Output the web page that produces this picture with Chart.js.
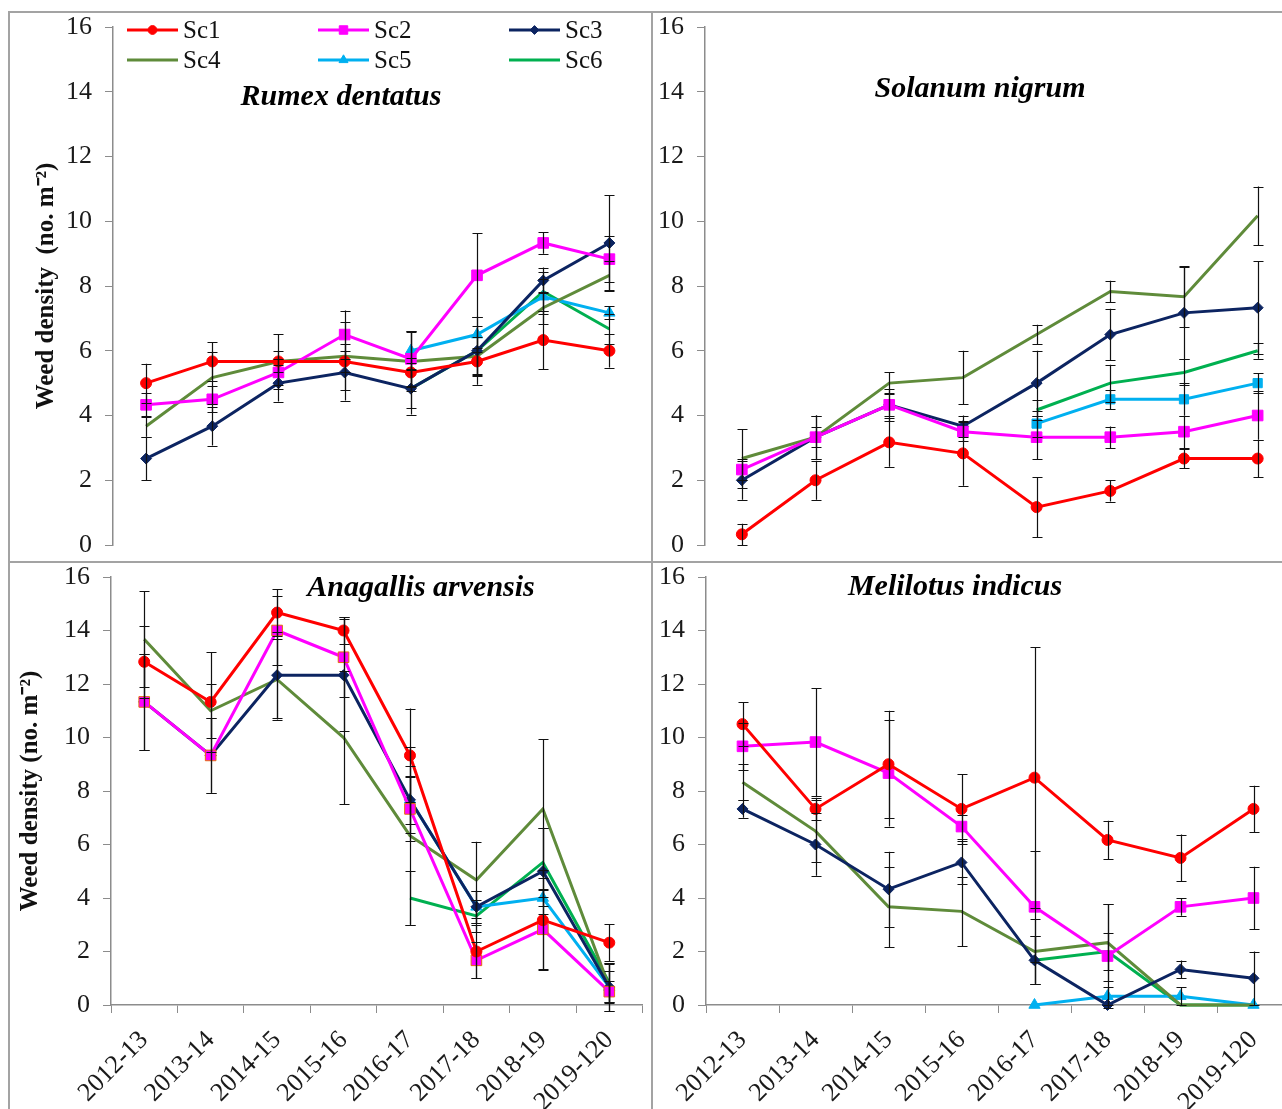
<!DOCTYPE html>
<html>
<head>
<meta charset="utf-8">
<title>Weed density</title>
<script src="https://cdn.jsdelivr.net/npm/chart.js@4.4.0/dist/chart.umd.min.js"></script>
<style>
  html, body { margin: 0; padding: 0; background: #fff; }
  body { width: 1282px; height: 1109px; position: relative; overflow: hidden; }
  .panel { position: absolute; }
  .rule { position: absolute; background: #a3a3a3; }
</style>
</head>
<body>
<div class="rule" style="left:8px;top:11px;width:1274px;height:2px"></div>
<div class="rule" style="left:8px;top:561px;width:1274px;height:2px"></div>
<div class="rule" style="left:8px;top:11px;width:2px;height:1098px"></div>
<div class="rule" style="left:651px;top:11px;width:2px;height:1098px"></div>

<div class="panel" style="left:10px;top:13px;width:641px;height:548px"><canvas id="rumex"></canvas></div>
<div class="panel" style="left:653px;top:13px;width:650px;height:548px"><canvas id="solanum"></canvas></div>
<div class="panel" style="left:10px;top:563px;width:641px;height:546px"><canvas id="anagallis"></canvas></div>
<div class="panel" style="left:653px;top:563px;width:650px;height:546px"><canvas id="melilotus"></canvas></div>

<script>
// Seasons on the x axis
const years = ['2012-13', '2013-14', '2014-15', '2015-16', '2016-17', '2017-18', '2018-19', '2019-120'];
const seriesNames = ['Sc1', 'Sc2', 'Sc3', 'Sc4', 'Sc5', 'Sc6'];

// Rumex dentatus
const rdSc1 = [5.0, 5.67, 5.67, 5.67, 5.33, 5.67, 6.33, 6.0];
const rdSc2 = [4.33, 4.5, 5.33, 6.5, 5.75, 8.33, 9.33, 8.83];
const rdSc3 = [2.67, 3.67, 5.0, 5.33, 4.83, 6.0, 8.17, 9.33];
const rdSc4 = [3.67, 5.17, 5.67, 5.83, 5.67, 5.83, 7.33, 8.33];
const rdSc5 = [null, null, null, null, 6.0, 6.5, 7.67, 7.17];
const rdSc6 = [null, null, null, null, 4.83, 6.0, 7.83, 6.67];
const rdErr1 = [0.6, 0.6, 0.33, 0.33, 0.45, 0.4, 0.9, 0.52];
const rdErr2 = [0.37, 0.4, 0.4, 0.74, 0.85, 1.3, 0.33, 0.72];
const rdErr3 = [0.67, 0.6, 0.57, 0.87, 0.8, 1.05, 0.4, 1.47];
const rdErr4 = [0.33, 0.8, 0.85, 1.05, 0.9, 0.6, 0.5, 0.45];
const rdErr5 = [null, null, null, null, 0.6, 0.55, 0.55, 0.2];
const rdErr6 = [null, null, null, null, 0.6, 0.75, 0.6, 0.45];

// Solanum nigrum
const snSc1 = [0.33, 2.0, 3.17, 2.83, 1.17, 1.67, 2.67, 2.67];
const snSc2 = [2.33, 3.33, 4.33, 3.5, 3.33, 3.33, 3.5, 4.0];
const snSc3 = [2.0, 3.33, 4.33, 3.67, 5.0, 6.5, 7.17, 7.33];
const snSc4 = [2.67, 3.33, 5.0, 5.17, 6.5, 7.83, 7.67, 10.17];
const snSc5 = [null, null, null, null, 3.75, 4.5, 4.5, 5.0];
const snSc6 = [null, null, null, null, 4.17, 5.0, 5.33, 6.0];
const snErr1 = [0.33, 0.6, 0.75, 1.0, 0.93, 0.33, 0.3, 0.57];
const snErr2 = [0.33, 0.3, 0.5, 0.3, 0.67, 0.33, 0.5, 0.75];
const snErr3 = [0.6, 0.67, 0.35, 0.33, 1.0, 0.8, 1.43, 1.43];
const snErr4 = [0.9, 0.67, 0.33, 0.83, 0.3, 0.33, 0.95, 0.9];
const snErr5 = [null, null, null, null, 0.4, 0.3, 0.5, 0.3];
const snErr6 = [null, null, null, null, 0.3, 0.57, 0.4, 0.25];

// Anagallis arvensis
const aaSc1 = [12.83, 11.33, 14.67, 14.0, 9.33, 2.0, 3.17, 2.33];
const aaSc2 = [11.33, 9.33, 14.0, 13.0, 7.33, 1.67, 2.83, 0.5];
const aaSc3 = [11.33, 9.33, 12.33, 12.33, 7.67, 3.67, 5.0, 0.67];
const aaSc4 = [13.67, 11.0, 12.17, 10.0, 6.33, 4.67, 7.33, 0.67];
const aaSc5 = [null, null, null, null, 7.67, 3.67, 4.0, 0.67];
const aaSc6 = [null, null, null, null, 4.0, 3.33, 5.33, 0.83];
const aaErr1 = [1.35, 1.87, 0.87, 0.5, 1.75, 1.0, 1.87, 0.7];
const aaErr2 = [1.8, 1.4, 1.3, 1.5, 1.2, 0.67, 1.5, 0.4];
const aaErr3 = [1.8, 1.4, 1.6, 2.1, 1.25, 0.6, 1.6, 0.9];
const aaErr4 = [1.8, 1.0, 1.5, 2.5, 3.33, 1.43, 2.6, 0.9];
const aaErr5 = [null, null, null, null, 0.9, 0.6, 0.3, 0.6];
const aaErr6 = [null, null, null, null, 1.0, 0.6, 1.3, 0.7];

// Melilotus indicus
const miSc1 = [10.5, 7.33, 9.0, 7.33, 8.5, 6.17, 5.5, 7.33];
const miSc2 = [9.67, 9.83, 8.67, 6.67, 3.67, 1.83, 3.67, 4.0];
const miSc3 = [7.33, 6.0, 4.33, 5.33, 1.67, 0, 1.33, 1.0];
const miSc4 = [8.33, 6.5, 3.67, 3.5, 2.0, 2.33, 0, 0];
const miSc5 = [null, null, null, null, 0, 0.33, 0.33, 0];
const miSc6 = [null, null, null, null, 1.67, 2.0, 0, 0];
const miErr1 = [0.83, 0.42, 2.0, 1.3, 4.87, 0.72, 0.87, 0.87];
const miErr2 = [0.88, 2.02, 2.0, 0.45, 2.07, 1.95, 0.33, 1.17];
const miErr3 = [0.33, 1.17, 1.4, 0.8, 0.9, 0, 0.33, 1.0];
const miErr4 = [0.67, 1.15, 1.5, 1.3, 1.2, 1.45, 0, 0];
const miErr5 = [null, null, null, null, 0, 0.33, 0.33, 0];
const miErr6 = [null, null, null, null, 0.9, 0.7, 0, 0];

// Series styling
const lineColors = ['#ff0000', '#ff00ff', '#0c2461', '#5f8b3a', '#00b0f0', '#00b050'];
const markerStyles = ['circle', 'rect', 'rectRot', false, 'triangle', false];
const markerSizes = [5.5, 7.5, 5.5, 0, 6.5, 0];

const SERIF = '"Liberation Serif", "Times New Roman", serif';
const AXIS_GREY = '#8c8c8c';

// Black error bars with caps, drawn from each dataset's errors array
const errorBars = {
    id: 'errorBars',
    afterDatasetsDraw(chart) {
        const ctx = chart.ctx;
        const yScale = chart.scales.y;
        const area = chart.chartArea;
        ctx.save();
        ctx.strokeStyle = '#111';
        ctx.lineWidth = 1.2;
        chart.data.datasets.forEach((ds, i) => {
            if (!ds.errors) return;
            const meta = chart.getDatasetMeta(i);
            meta.data.forEach((pt, j) => {
                const v = ds.data[j];
                const e = ds.errors[j];
                if (v === null || !e) return;
                const x = Math.round(pt.x) + 0.5;
                const top = yScale.getPixelForValue(v + e);
                let bot = yScale.getPixelForValue(v - e);
                const botCap = bot <= area.bottom + 12;
                bot = Math.min(bot, area.bottom + 12);
                ctx.beginPath();
                ctx.moveTo(x, top);
                ctx.lineTo(x, bot);
                ctx.moveTo(x - 5, Math.round(top) + 0.5);
                ctx.lineTo(x + 5, Math.round(top) + 0.5);
                if (botCap) {
                    ctx.moveTo(x - 5, Math.round(bot) + 0.5);
                    ctx.lineTo(x + 5, Math.round(bot) + 0.5);
                }
                ctx.stroke();
            });
        });
        ctx.restore();
    }
};

// Three-column legend inside the first panel
const cornerLegend = {
    id: 'cornerLegend',
    afterDraw(chart, args, opts) {
        if (!opts.show) return;
        const ctx = chart.ctx;
        ctx.save();
        ctx.font = '25px ' + SERIF;
        ctx.textBaseline = 'middle';
        ctx.textAlign = 'left';
        chart.data.datasets.forEach((ds, i) => {
            const x = opts.x + (i % 3) * opts.colW;
            const y = opts.y + Math.floor(i / 3) * opts.rowH;
            ctx.strokeStyle = ds.borderColor;
            ctx.lineWidth = 3;
            ctx.beginPath();
            ctx.moveTo(x, y);
            ctx.lineTo(x + opts.lineW, y);
            ctx.stroke();
            if (ds.pointStyle && ds.pointRadius > 0) {
                ctx.fillStyle = ds.borderColor;
                ctx.lineWidth = 1;
                Chart.helpers.drawPoint(ctx, {
                    pointStyle: ds.pointStyle, rotation: 0,
                    radius: ds.pointRadius * 0.8, borderWidth: 1
                }, x + opts.lineW / 2, y);
            }
            ctx.fillStyle = '#111';
            ctx.fillText(ds.label, x + opts.lineW + 5, y + 1);
        });
        ctx.restore();
    }
};

// Species name written inside the plot
const panelTitle = {
    id: 'panelTitle',
    afterDraw(chart, args, opts) {
        const ctx = chart.ctx;
        ctx.save();
        ctx.font = 'italic bold 30px ' + SERIF;
        ctx.fillStyle = '#000';
        ctx.textAlign = 'center';
        ctx.textBaseline = 'middle';
        ctx.fillText(opts.text, opts.x, opts.y);
        ctx.restore();
    }
};

function buildDatasets(values, errors, sc5Style, sc2Border) {
    return values.map((vals, i) => ({
        label: seriesNames[i],
        data: vals,
        errors: errors[i],
        borderColor: lineColors[i],
        backgroundColor: lineColors[i],
        borderWidth: 3,
        pointStyle: i === 4 ? sc5Style : markerStyles[i],
        pointRadius: markerSizes[i],
        pointHoverRadius: markerSizes[i],
        pointBackgroundColor: lineColors[i],
        pointBorderColor: (i === 1 && sc2Border) ? sc2Border : lineColors[i],
        pointBorderWidth: 1,
        tension: 0,
        spanGaps: false,
        clip: false
    }));
}

// keep the layout padding in charge of where the plot area sits
function noLabelOverflow(scale) {
    scale.paddingTop = 0;
    scale.paddingBottom = 0;
    scale.paddingLeft = 0;
    scale.paddingRight = 0;
}

function drawPanel(canvasId, p) {
    return new Chart(document.getElementById(canvasId), {
        type: 'line',
        data: {
            labels: years,
            datasets: buildDatasets(p.values, p.errors, p.sc5Style, p.sc2Border)
        },
        options: {
            responsive: true,
            maintainAspectRatio: false,
            animation: false,
            layout: { padding: p.padding },
            plugins: {
                legend: { display: false },
                tooltip: { enabled: false },
                cornerLegend: p.legend || { show: false },
                panelTitle: p.title
            },
            scales: {
                x: {
                    display: p.showX,
                    offset: true,
                    grid: { offset: true, drawOnChartArea: false, tickLength: 8, color: AXIS_GREY },
                    border: { color: AXIS_GREY, width: 1.5 },
                    ticks: {
                        autoSkip: false,
                        maxRotation: 45,
                        minRotation: 45,
                        padding: 12,
                        color: '#1a1a1a',
                        font: { family: SERIF, size: 26 }
                    },
                    afterFit(scale) {
                        scale.height = p.xHeight;
                        noLabelOverflow(scale);
                    }
                },
                y: {
                    min: 0,
                    max: 16,
                    ticks: {
                        stepSize: 2,
                        padding: 13,
                        color: '#1a1a1a',
                        font: { family: SERIF, size: 26 }
                    },
                    grid: { drawOnChartArea: false, tickLength: 8, color: AXIS_GREY },
                    border: { color: AXIS_GREY, width: 1.5 },
                    title: {
                        display: !!p.yTitle,
                        text: p.yTitle || '',
                        color: '#111',
                        font: { family: SERIF, size: 25, weight: 'bold' },
                        padding: { top: p.yTitlePad || 0, bottom: 0 }
                    },
                    afterFit(scale) {
                        scale.width = p.yWidth;
                        noLabelOverflow(scale);
                    }
                }
            }
        },
        plugins: [errorBars, cornerLegend, panelTitle]
    });
}

drawPanel('rumex', {
    values: [rdSc1, rdSc2, rdSc3, rdSc4, rdSc5, rdSc6],
    errors: [rdErr1, rdErr2, rdErr3, rdErr4, rdErr5, rdErr6],
    sc5Style: 'triangle',
    showX: false, xHeight: 0,
    yWidth: 103, yTitle: 'Weed density  (no. m\u207B\u00B2)', yTitlePad: 22,
    padding: { top: 14, right: 8, bottom: 16, left: 0 },
    legend: { show: true, x: 117, y: 17, colW: 191, rowH: 30, lineW: 51 },
    title: { text: 'Rumex dentatus', x: 331, y: 84 }
});

drawPanel('solanum', {
    values: [snSc1, snSc2, snSc3, snSc4, snSc5, snSc6],
    errors: [snErr1, snErr2, snErr3, snErr4, snErr5, snErr6],
    sc5Style: 'rect',
    showX: false, xHeight: 0,
    yWidth: 52,
    padding: { top: 14, right: 8, bottom: 16, left: 0 },
    title: { text: 'Solanum nigrum', x: 327, y: 76 }
});

drawPanel('anagallis', {
    values: [aaSc1, aaSc2, aaSc3, aaSc4, aaSc5, aaSc6],
    errors: [aaErr1, aaErr2, aaErr3, aaErr4, aaErr5, aaErr6],
    sc5Style: 'triangle', sc2Border: '#e46c0a',
    showX: true, xHeight: 104,
    yWidth: 101, yTitle: 'Weed density (no. m\u207B\u00B2)', yTitlePad: 6,
    padding: { top: 14, right: 0, bottom: 0, left: 0 },
    title: { text: 'Anagallis arvensis', x: 411, y: 25 }
});

drawPanel('melilotus', {
    values: [miSc1, miSc2, miSc3, miSc4, miSc5, miSc6],
    errors: [miErr1, miErr2, miErr3, miErr4, miErr5, miErr6],
    sc5Style: 'triangle',
    showX: true, xHeight: 104,
    yWidth: 53,
    padding: { top: 14, right: 13, bottom: 0, left: 0 },
    title: { text: 'Melilotus indicus', x: 302, y: 24 }
});
</script>
</body>
</html>
